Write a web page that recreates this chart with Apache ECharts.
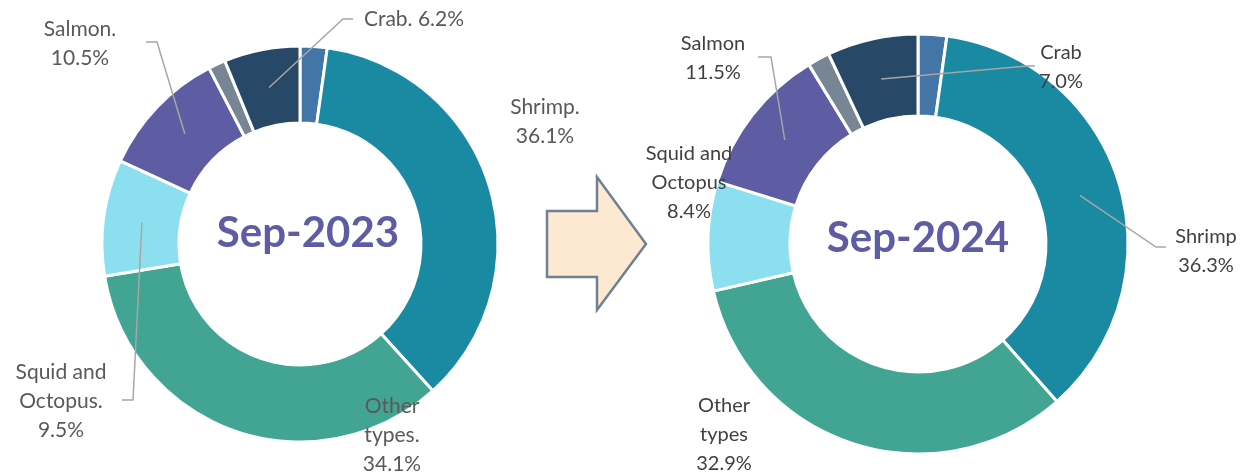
<!DOCTYPE html>
<html>
<head>
<meta charset="utf-8">
<script src="https://cdn.jsdelivr.net/npm/echarts@6/dist/echarts.min.js"></script>
<style>
  html, body { margin: 0; padding: 0; background: #fff; }
  #chart { width: 1244px; height: 476px; }
</style>
</head>
<body>
<div id="chart"></div>
<script>
// slice order, clockwise from 12 o'clock
var categories = ['Minor A', 'Shrimp', 'Other types', 'Squid and Octopus', 'Salmon', 'Minor B', 'Crab']
var values2023 = [2.2, 36.1, 34.1, 9.5, 10.5, 1.4, 6.2]
var values2024 = [2.2, 36.3, 32.9, 8.4, 11.5, 1.7, 7.0]
// label text (name part), '' = no label
var labels2023 = ['', 'Shrimp.', 'Other\ntypes.', 'Squid and\nOctopus.', 'Salmon.', '', 'Crab.']
var labels2024 = ['', 'Shrimp', 'Other\ntypes', 'Squid and\nOctopus', 'Salmon', '', 'Crab']
var titles = ['Sep-2023', 'Sep-2024']
var colors = ['#4375a7', '#1a89a2', '#42a593', '#8cdfef', '#5e5ca3', '#778595', '#284867']

// layout: ring geometry and where each label sits
var pies = [
  {
    center: [300, 244], radius: [121, 198], values: values2023, labels: labels2023, sep: [' ', '\n', '\n', '\n', '\n', ' ', ' '],
    color: '#595959', fontSize: 21,
    pos: {
      1: { x: 545, y: 122 },
      2: { x: 392, y: 435 },
      3: { x: 61, y: 401, line: [[133, 400], [122, 400]] },
      4: { x: 80, y: 44, line: [[157, 42], [146, 42]] },
      6: { x: 414, y: 19, line: [[343, 19], [353, 19]] }
    }
  },
  {
    center: [918, 244], radius: [128, 210], values: values2024, labels: labels2024, sep: ['\n', '\n', '\n', '\n', '\n', '\n', '\n'],
    color: '#404040', fontSize: 20,
    pos: {
      1: { x: 1206, y: 251, line: [[1156, 247], [1166, 247]] },
      2: { x: 724, y: 435 },
      3: { x: 689, y: 183 },
      4: { x: 713, y: 58, line: [[771, 57], [758, 57]] },
      6: { x: 1061, y: 67, line: [[1027, 66], [1035, 66]] }
    }
  }
]

// point in the middle of the ring at a slice's mid angle
function midPoint (p, idx) {
  var total = 0
  var cum = 0
  p.values.forEach(function (v, i) {
    total += v
    if (i < idx) cum += v
  })
  var a = 2 * Math.PI * (cum + p.values[idx] / 2) / total
  var r = (p.radius[0] + p.radius[1]) / 2
  return [p.center[0] + r * Math.sin(a), p.center[1] - r * Math.cos(a)]
}

var series = []
pies.forEach(function (p) {
  // the rings
  series.push({
    type: 'pie',
    center: p.center,
    radius: p.radius,
    startAngle: 90,
    silent: true,
    z: 2,
    itemStyle: { borderColor: '#fff', borderWidth: 3 },
    label: { show: false },
    labelLine: { show: false },
    data: categories.map(function (c, i) {
      return { name: c, value: p.values[i], itemStyle: { color: colors[i] } }
    })
  })
  // same slices, transparent, only for labels + leader lines drawn on top
  series.push({
    type: 'pie',
    center: p.center,
    radius: p.radius,
    startAngle: 90,
    silent: true,
    z: 5,
    avoidLabelOverlap: false,
    itemStyle: { color: 'rgba(0,0,0,0)', borderWidth: 0 },
    label: {
      position: 'outside',
      color: p.color,
      fontFamily: 'Lato',
      fontSize: p.fontSize,
      lineHeight: 29
    },
    labelLine: { lineStyle: { color: '#a6a6a6', width: 1.5 } },
    labelLayout: function (params) {
      var pos = p.pos[params.dataIndex]
      if (!pos) return {}
      var out = { x: pos.x, y: pos.y, align: 'center', verticalAlign: 'middle' }
      if (pos.line) {
        out.labelLinePoints = [midPoint(p, params.dataIndex)].concat(pos.line)
      }
      return out
    },
    data: categories.map(function (c, i) {
      var has = p.labels[i] !== ''
      return {
        name: c,
        value: p.values[i],
        label: {
          show: has,
          formatter: p.labels[i] + p.sep[i] + p.values[i].toFixed(1) + '%'
        },
        labelLine: { show: has && !!(p.pos[i] && p.pos[i].line) }
      }
    })
  })
})

var myChart = echarts.init(document.getElementById('chart'))
var option = {
  animation: false,
  graphic: [
    {
      type: 'polygon',
      shape: { points: [[547, 211], [597, 211], [597, 177], [646, 244], [597, 310], [597, 277], [547, 277]] },
      style: { fill: '#fde9d2', stroke: '#708093', lineWidth: 2.5 }
    },
    {
      type: 'text', x: 308, y: 233,
      style: { text: titles[0], fill: '#5e5ca3', font: 'bold 42px Lato', textAlign: 'center', textVerticalAlign: 'middle' }
    },
    {
      type: 'text', x: 918, y: 238,
      style: { text: titles[1], fill: '#5e5ca3', font: 'bold 42px Lato', textAlign: 'center', textVerticalAlign: 'middle' }
    }
  ],
  series: series
}
myChart.setOption(option)
</script>
</body>
</html>
